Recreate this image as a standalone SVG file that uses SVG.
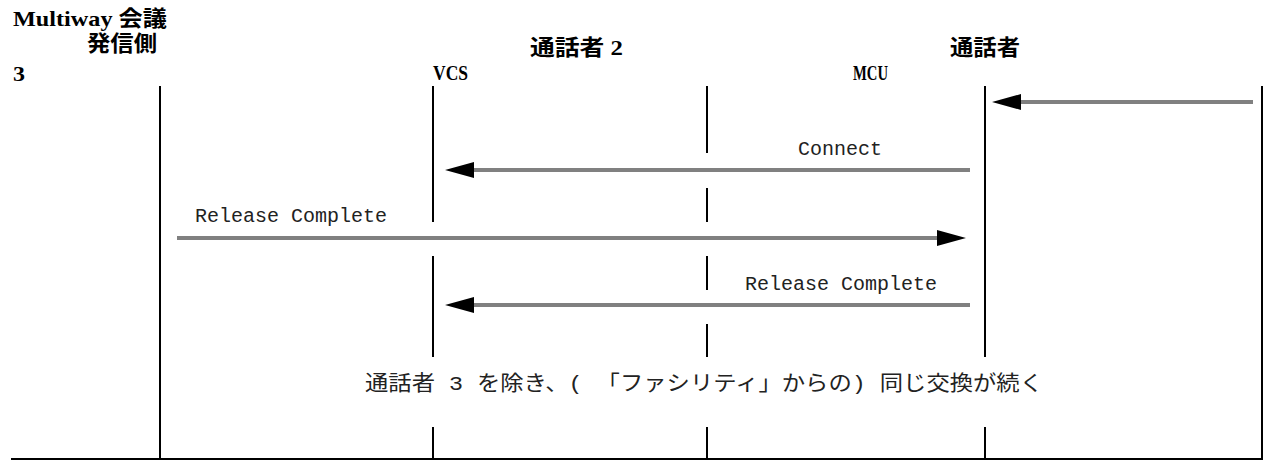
<svg xmlns="http://www.w3.org/2000/svg" width="1264" height="461" viewBox="0 0 1264 461">
  <style>
    .hdr { font-family: "Liberation Serif", "Noto Sans CJK JP", serif; font-weight: bold; font-size: 22px; fill: #000; }
    .lbl { font-family: "Liberation Mono", "Noto Sans CJK JP", monospace; font-size: 20px; fill: #222; }
    .note { font-family: "Liberation Mono", "Noto Sans CJK JP", monospace; font-size: 21px; fill: #222; }
    .life { stroke: #000; stroke-width: 2; fill: none; }
    .msg { stroke: #808080; stroke-width: 4; fill: none; marker-end: url(#head); }
  </style>
  <defs>
    <marker id="head" markerUnits="userSpaceOnUse" markerWidth="30" markerHeight="16" refX="0" refY="8" orient="auto" overflow="visible">
      <path d="M0,0 L29,8 L0,16 Z" fill="#000"/>
    </marker>
  </defs>

  <text class="hdr" x="13" y="26" textLength="154" lengthAdjust="spacingAndGlyphs">Multiway 会議</text>

  <g id="caller3">
    <text class="hdr" x="87" y="51" textLength="70" lengthAdjust="spacingAndGlyphs">発信側</text>
    <text class="hdr" x="13" y="81" textLength="12" lengthAdjust="spacingAndGlyphs">3</text>
    <path class="life" d="M160,86 V460"/>
  </g>

  <g id="vcs">
    <text class="hdr" x="433" y="80" textLength="35" lengthAdjust="spacingAndGlyphs">VCS</text>
    <path class="life" d="M433,86 V222 M433,256 V357 M433,427 V460"/>
  </g>

  <g id="caller2">
    <text class="hdr" x="530" y="55" textLength="93" lengthAdjust="spacingAndGlyphs">通話者 2</text>
    <path class="life" d="M707,86 V153 M707,188 V222 M707,256 V290 M707,324 V357 M707,427 V460"/>
  </g>

  <g id="mcu">
    <text class="hdr" x="853" y="80" textLength="35" lengthAdjust="spacingAndGlyphs">MCU</text>
    <path class="life" d="M985,86 V357 M985,427 V460"/>
  </g>

  <g id="caller">
    <text class="hdr" x="950" y="55" textLength="70" lengthAdjust="spacingAndGlyphs">通話者</text>
    <path class="life" d="M1262,86 V460"/>
  </g>

  <path class="life" d="M11,459 H1263"/>

  <g id="connectors">
    <line class="msg" x1="1253" y1="102" x2="1021" y2="102"/>
    <line class="msg" x1="970" y1="170" x2="474" y2="170"/>
    <line class="msg" x1="177" y1="238" x2="937" y2="238"/>
    <line class="msg" x1="970" y1="305" x2="474" y2="305"/>
    <text class="lbl" x="798" y="155">Connect</text>
    <text class="lbl" x="195" y="222">Release Complete</text>
    <text class="lbl" x="745" y="290">Release Complete</text>
  </g>

  <text class="note" x="365" y="390" textLength="678" lengthAdjust="spacingAndGlyphs">通話者 3 を除き、( 「ファシリティ」からの) 同じ交換が続く</text>
</svg>
